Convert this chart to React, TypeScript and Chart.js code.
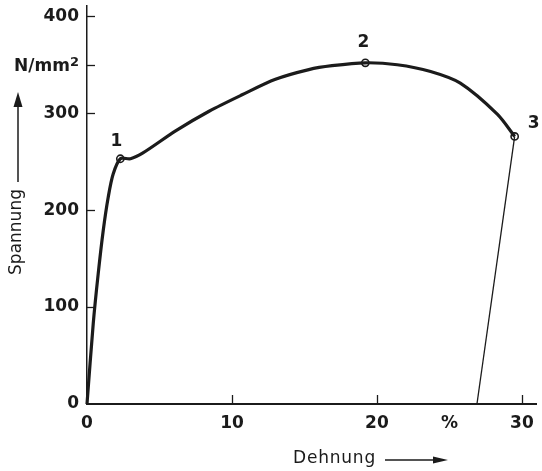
import React, { useEffect, useRef } from 'react';
import { Chart, registerables } from 'chart.js';

Chart.register(...registerables);

// Stress–strain curve (Dehnung in %, Spannung in N/mm²)
const curveStrain = [0, 0.43, 0.77, 1.12, 1.46, 1.8, 2.3, 3.0, 3.86, 6.14, 8.42, 10.7, 13.0, 15.3, 16.9, 19.2, 21.4, 23.7, 25.75, 28.3, 29.5];
const curveStress = [0, 83, 134, 179, 213, 237, 253, 253, 259, 282, 302, 319, 335, 345, 349, 352, 350, 343, 331, 299, 276];

// Unloading line after fracture
const unloadStrain = [29.5, 26.9];
const unloadStress = [276, 0];

// Marked points
const markerStrain = [2.3, 19.2, 29.5];
const markerStress = [253, 352, 276];
const markerLabels = ['1', '2', '3'];

// Axes
const xTickValues = [0, 10, 20, 25, 30];
const xTickLabels = ['0', '10', '20', '%', '30'];
const xTickMarks = [10, 20, 30];
const yTickValues = [0, 100, 200, 300, 350, 400];
const yTickLabels = ['0', '100', '200', '300', '', '400'];
const yTickMarks = [100, 200, 300, 350, 400];
const yUnitValue = 350;
const yUnitText = 'N/mm';
const yUnitSup = '2';
const xTitle = 'Dehnung';
const yTitle = 'Spannung';

export default function App() {
  const ref = useRef<HTMLCanvasElement>(null);

  useEffect(() => {
    if (!ref.current) return;
    const ink = '#1b1b1b';
    const tickFont = 'bold 17px "DejaVu Sans"';
    const labelOffsets = [
      [-4, -17],
      [-2, -20],
      [19, -13],
    ];

    const overlay = {
      id: 'overlay',
      afterDraw(chart: any) {
        const ctx = chart.ctx as CanvasRenderingContext2D;
        const xs = chart.scales.x;
        const ys = chart.scales.y;
        const area = chart.chartArea;
        ctx.save();
        ctx.strokeStyle = ink;
        ctx.fillStyle = ink;
        // inner tick marks
        ctx.lineWidth = 1.3;
        yTickMarks.forEach((v) => {
          const y = Math.round(ys.getPixelForValue(v)) + 0.5;
          ctx.beginPath();
          ctx.moveTo(area.left, y);
          ctx.lineTo(area.left + 8, y);
          ctx.stroke();
        });
        xTickMarks.forEach((v) => {
          const x = Math.round(xs.getPixelForValue(v)) + 0.5;
          ctx.beginPath();
          ctx.moveTo(x, area.bottom);
          ctx.lineTo(x, area.bottom - 9);
          ctx.stroke();
        });
        // unit label N/mm²
        const uy = ys.getPixelForValue(yUnitValue);
        const right = area.left - 8;
        ctx.font = 'bold 13px "DejaVu Sans"';
        const supW = ctx.measureText(yUnitSup).width;
        ctx.textAlign = 'right';
        ctx.textBaseline = 'alphabetic';
        ctx.fillText(yUnitSup, right, uy + 1.5);
        ctx.font = tickFont;
        ctx.fillText(yUnitText, right - supW, uy + 6.5);
        // marker labels
        ctx.textAlign = 'center';
        ctx.textBaseline = 'middle';
        markerLabels.forEach((t, i) => {
          const px = xs.getPixelForValue(markerStrain[i]);
          const py = ys.getPixelForValue(markerStress[i]);
          ctx.fillText(t, px + labelOffsets[i][0], py + labelOffsets[i][1]);
        });
        // y title with arrow
        ctx.font = '17px "DejaVu Sans"';
        ctx.save();
        ctx.translate(17, 232);
        ctx.rotate(-Math.PI / 2);
        ctx.textAlign = 'center';
        ctx.textBaseline = 'middle';
        ctx.fillText(yTitle, 0, 0);
        ctx.restore();
        ctx.lineWidth = 1.5;
        ctx.beginPath();
        ctx.moveTo(18, 182);
        ctx.lineTo(18, 104);
        ctx.stroke();
        ctx.beginPath();
        ctx.moveTo(18, 92);
        ctx.lineTo(22.5, 107);
        ctx.lineTo(13.5, 107);
        ctx.closePath();
        ctx.fill();
        // x title with arrow
        ctx.textAlign = 'left';
        ctx.textBaseline = 'alphabetic';
        (ctx as any).letterSpacing = '0.8px';
        ctx.fillText(xTitle, 293, 463);
        (ctx as any).letterSpacing = '0px';
        ctx.beginPath();
        ctx.moveTo(385, 460);
        ctx.lineTo(436, 460);
        ctx.stroke();
        ctx.beginPath();
        ctx.moveTo(448, 460);
        ctx.lineTo(433, 456.5);
        ctx.lineTo(433, 463.5);
        ctx.closePath();
        ctx.fill();
        ctx.restore();
      },
    };

    const chart = new Chart(ref.current, {
      type: 'scatter',
      data: {
        datasets: [
          {
            data: curveStrain.map((x, i) => ({ x, y: curveStress[i] })),
            showLine: true,
            borderColor: ink,
            borderWidth: 3.2,
            pointRadius: 0,
            tension: 0.3,
            clip: false,
          } as any,
          {
            data: unloadStrain.map((x, i) => ({ x, y: unloadStress[i] })),
            showLine: true,
            borderColor: ink,
            borderWidth: 1.3,
            pointRadius: 0,
            clip: false,
          } as any,
          {
            data: markerStrain.map((x, i) => ({ x, y: markerStress[i] })),
            showLine: false,
            pointRadius: 3.6,
            pointBackgroundColor: '#ffffff',
            pointBorderColor: ink,
            pointBorderWidth: 1.6,
            clip: false,
          } as any,
        ],
      },
      options: {
        responsive: false,
        animation: false,
        events: [],
        layout: { padding: { top: 4, right: 3, left: 0, bottom: 0 } },
        plugins: { legend: { display: false }, tooltip: { enabled: false } },
        scales: {
          x: {
            type: 'linear',
            min: 0,
            max: 31,
            afterBuildTicks: (s: any) => {
              s.ticks = xTickValues.map((v) => ({ value: v }));
            },
            afterFit: (s: any) => {
              s.height = 67;
              s.paddingLeft = 0;
              s.paddingRight = 0;
            },
            ticks: {
              autoSkip: false,
              maxRotation: 0,
              padding: 9,
              color: ink,
              font: { family: 'DejaVu Sans', size: 17, weight: 'bold' },
              callback: (v: any) => {
                const i = xTickValues.indexOf(Number(v));
                return i >= 0 ? xTickLabels[i] : '';
              },
            },
            grid: { display: false, drawTicks: false },
            border: { display: true, color: ink, width: 2 },
          },
          y: {
            type: 'linear',
            min: 0,
            max: 411,
            afterBuildTicks: (s: any) => {
              s.ticks = yTickValues.map((v) => ({ value: v }));
            },
            afterFit: (s: any) => {
              s.width = 87;
              s.paddingTop = 0;
              s.paddingBottom = 0;
            },
            ticks: {
              autoSkip: false,
              padding: 8,
              color: ink,
              font: { family: 'DejaVu Sans', size: 17, weight: 'bold' },
              callback: (v: any) => {
                const i = yTickValues.indexOf(Number(v));
                return i >= 0 ? yTickLabels[i] : '';
              },
            },
            grid: { display: false, drawTicks: false },
            border: { display: true, color: ink, width: 1.5 },
          },
        },
      },
      plugins: [overlay],
    } as any);

    return () => chart.destroy();
  }, []);

  return (
    <div style={{ position: 'absolute', left: 0, top: 0, width: 542, height: 471, background: '#fff' }}>
      <canvas ref={ref} width={542} height={471} />
    </div>
  );
}
